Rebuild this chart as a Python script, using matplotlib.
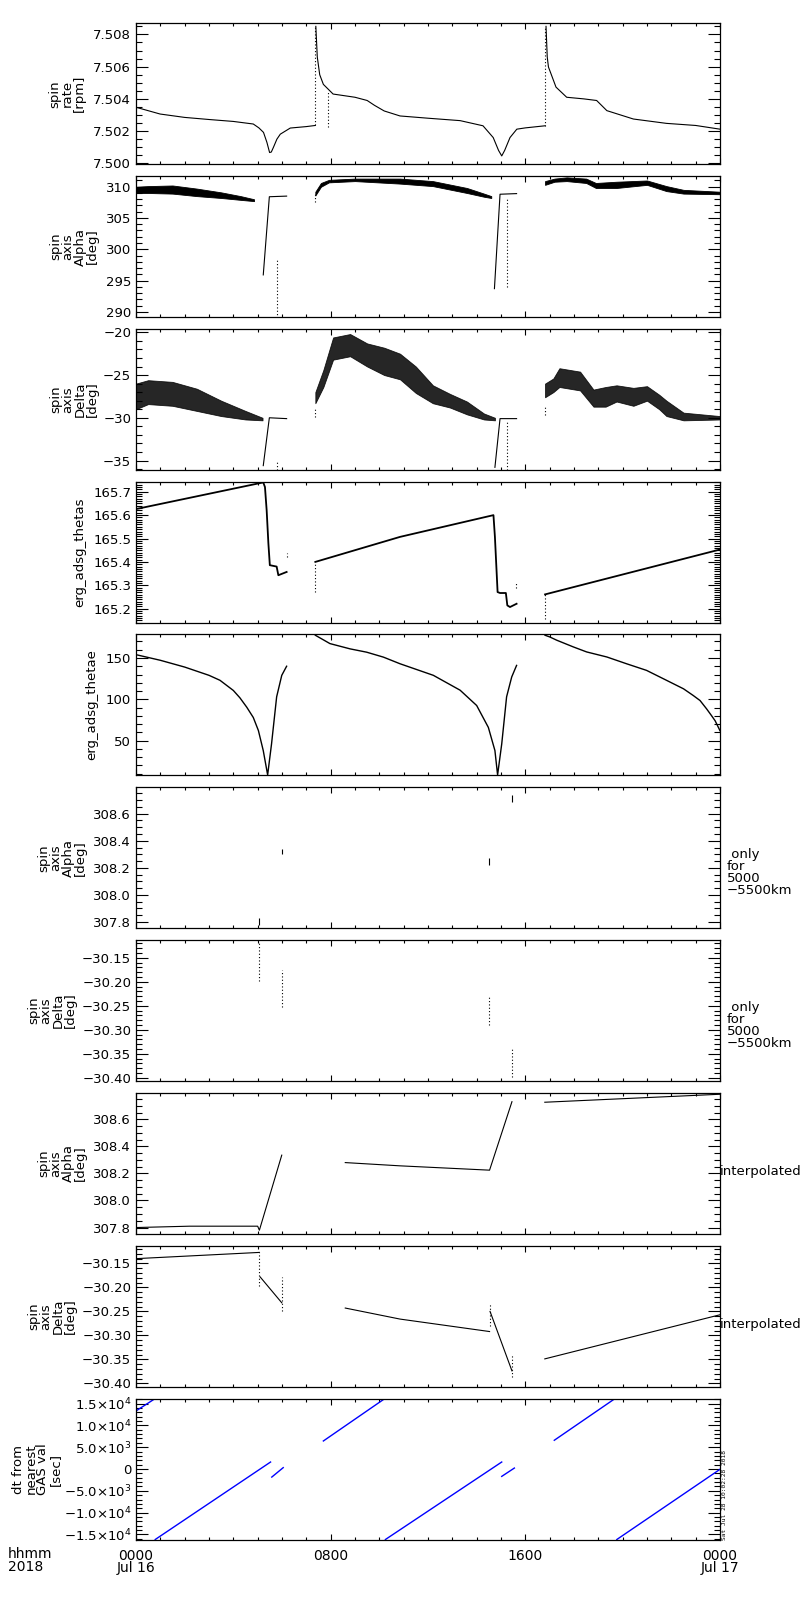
import numpy as np
import matplotlib.pyplot as plt
from matplotlib.ticker import MultipleLocator, FixedLocator, FixedFormatter, FuncFormatter

# time axis: hours since 0000 Jul 16 2018

# spin rate [rpm]
rate_t1 = [0, 0.99, 2.0, 3.0, 4.0, 4.82, 5.05, 5.24, 5.38, 5.49, 5.56, 5.65, 5.79, 5.93, 6.34, 7.0, 7.37]
rate_v1 = [7.50348, 7.50306, 7.50285, 7.50272, 7.5026, 7.50244, 7.5022, 7.50192, 7.5013, 7.50067,
           7.5007, 7.5010, 7.5015, 7.50181, 7.50219, 7.50228, 7.50235]
rate_t2 = [7.39, 7.45, 7.55, 7.7, 7.9, 8.1, 9.0, 9.5, 9.8, 10.2, 10.85, 12.0, 13.32, 14.26, 14.68,
           14.9, 15.03, 15.15, 15.37, 15.65, 16.0, 16.81]
rate_v2 = [7.5085, 7.5066, 7.5055, 7.5049, 7.5046, 7.5043, 7.5041, 7.5039, 7.5036, 7.50325, 7.50294,
           7.5028, 7.50265, 7.50233, 7.5016, 7.5008, 7.50046, 7.5008, 7.5016, 7.50212, 7.5022, 7.50233]
rate_t3 = [16.85, 16.9, 16.95, 17.26, 17.7, 18.4, 18.93, 19.35, 20.44, 21.8, 23.0, 24.0]
rate_v3 = [7.5085, 7.5066, 7.50598, 7.50473, 7.5041, 7.5040, 7.5039, 7.50327, 7.50275, 7.50248,
           7.50235, 7.50212]
rate_spk_t = [7.37, 7.9, 16.81]
rate_spk_lo = [7.50235, 7.50225, 7.50233]
rate_spk_hi = [7.5085, 7.5045, 7.5085]

# spin axis alpha [deg]
alpha_b1_t = [0, 0.5, 1.5, 2.5, 3.5, 4.3, 4.85]
alpha_b1_hi = [310.0, 310.1, 310.2, 309.7, 309.1, 308.5, 308.0]
alpha_b1_lo = [309.0, 309.0, 308.9, 308.5, 308.2, 307.9, 307.7]
alpha_b2_t = [7.37, 7.6, 7.93, 9.0, 10.85, 12.2, 13.6, 14.3, 14.6]
alpha_b2_hi = [309.2, 310.6, 311.1, 311.3, 311.3, 310.9, 309.8, 308.9, 308.5]
alpha_b2_lo = [308.6, 310.0, 310.7, 310.9, 310.5, 310.1, 309.0, 308.4, 308.2]
alpha_b3_t = [16.81, 17.2, 17.7, 18.5, 18.9, 19.75, 21.0, 21.8, 22.5, 24.0]
alpha_b3_hi = [310.9, 311.3, 311.5, 311.3, 310.6, 310.8, 311.0, 310.1, 309.5, 309.2]
alpha_b3_lo = [310.3, 310.8, 310.9, 310.6, 309.8, 309.8, 310.3, 309.3, 308.9, 308.8]
alpha_s1_t = [5.23, 5.48, 6.19]
alpha_s1_v = [295.9, 308.4, 308.5]
alpha_s2_t = [14.73, 14.96, 15.64]
alpha_s2_v = [293.7, 308.8, 308.9]
alpha_dot_t = [5.78, 7.37, 15.26]
alpha_dot_lo = [289.0, 307.5, 294.0]
alpha_dot_hi = [298.5, 308.9, 308.0]

# spin axis delta [deg]
delta_b1_t = [0, 0.5, 1.5, 2.5, 3.5, 4.5, 5.2]
delta_b1_hi = [-26.0, -25.6, -25.8, -26.6, -28.0, -29.2, -30.0]
delta_b1_lo = [-29.0, -28.4, -28.6, -29.2, -29.8, -30.2, -30.3]
delta_b2_t = [7.37, 7.7, 8.1, 8.8, 9.5, 10.2, 10.85, 11.5, 12.2, 12.9, 13.6, 14.3, 14.75]
delta_b2_hi = [-27.0, -24.4, -20.6, -20.2, -21.3, -21.8, -22.5, -24.0, -26.2, -27.2, -28.1, -29.5, -30.0]
delta_b2_lo = [-28.3, -26.4, -23.2, -22.8, -24.0, -25.0, -25.5, -27.1, -28.3, -28.8, -29.6, -30.2, -30.3]
delta_b3_t = [16.81, 17.15, 17.4, 18.25, 18.8, 19.3, 19.75, 20.44, 21.0, 21.5, 21.8, 22.5, 24.0]
delta_b3_hi = [-26.0, -25.4, -24.2, -24.6, -26.7, -26.4, -26.2, -26.5, -26.3, -27.3, -28.0, -29.4, -29.8]
delta_b3_lo = [-27.6, -27.0, -26.4, -26.8, -28.7, -28.7, -28.1, -28.6, -28.0, -29.0, -29.8, -30.3, -30.2]
delta_s1_t = [5.23, 5.48, 6.19]
delta_s1_v = [-35.6, -30.0, -30.1]
delta_s2_t = [14.75, 14.96, 15.64]
delta_s2_v = [-35.8, -30.1, -30.1]
delta_dot_t = [5.78, 7.37, 15.23, 16.81]
delta_dot_lo = [-36.1, -29.9, -36.1, -29.7]
delta_dot_hi = [-35.2, -28.7, -30.3, -28.5]

# erg_adsg_thetas
thetas_t1 = [0, 5.23, 5.3, 5.37, 5.44, 5.5, 5.78, 5.85, 6.19]
thetas_v1 = [165.626, 165.74, 165.72, 165.62, 165.48, 165.386, 165.38, 165.343, 165.357]
thetas_t2 = [7.37, 10.85, 14.69, 14.75, 14.86, 14.96, 15.2, 15.26, 15.37, 15.64]
thetas_v2 = [165.40, 165.507, 165.6, 165.507, 165.271, 165.267, 165.267, 165.214, 165.207, 165.221]
thetas_t3 = [16.81, 24.0]
thetas_v3 = [165.261, 165.453]
thetas_dot_t = [6.19, 7.37, 15.62, 16.81]
thetas_dot_lo = [165.42, 165.27, 165.29, 165.157]
thetas_dot_hi = [165.44, 165.40, 165.31, 165.261]

# erg_adsg_thetae
thetae_t1 = [0, 1.0, 2.0, 3.0, 3.45, 4.0, 4.27, 4.55, 4.82, 5.03, 5.23, 5.41, 5.57, 5.78, 5.99, 6.19]
thetae_v1 = [154, 147.2, 139, 129, 123, 110.7, 101.8, 90.5, 78, 62.2, 37.9, 8.5, 46, 103, 129, 140]
thetae_t2 = [7.37, 7.97, 8.8, 9.48, 10.17, 10.85, 12.22, 13.32, 14.0, 14.48, 14.75, 14.86,
             15.03, 15.23, 15.44, 15.64]
thetae_v2 = [177.5, 167.4, 161, 157, 151, 143, 129, 111, 92.5, 66, 38, 8.5, 46, 103, 127, 141]
thetae_t3 = [16.81, 17.0, 17.29, 17.97, 18.52, 19.35, 20.16, 20.98, 21.8, 22.5, 22.9, 23.18,
             23.45, 23.65, 23.8, 24.0]
thetae_v3 = [177.5, 175.5, 171.5, 163.4, 157.3, 151.2, 143, 135, 123, 112.7, 104.6, 98.5,
             88.4, 80.3, 74, 62]

# only for 5000-5500km
only_t = [5.07, 5.99, 14.52, 15.44]
only_alpha_lo = [307.78, 308.30, 308.22, 308.69]
only_alpha_hi = [307.83, 308.34, 308.27, 308.74]
only_delta_lo = [-30.199, -30.252, -30.29, -30.399]
only_delta_hi = [-30.115, -30.175, -30.23, -30.339]

# interpolated
ialpha_t1 = [0, 2.2, 5.0, 5.07, 5.99]
ialpha_v1 = [307.80, 307.81, 307.81, 307.78, 308.335]
ialpha_t2 = [8.6, 10.85, 14.53, 15.45]
ialpha_v2 = [308.28, 308.256, 308.224, 308.73]
ialpha_t3 = [16.8, 24.0]
ialpha_v3 = [308.726, 308.785]
idelta_t1 = [0, 5.07]
idelta_v1 = [-30.14, -30.127]
idelta_t2 = [5.1, 5.99]
idelta_v2 = [-30.178, -30.232]
idelta_t3 = [8.6, 10.85, 14.53]
idelta_v3 = [-30.243, -30.266, -30.292]
idelta_t4 = [14.55, 15.45]
idelta_v4 = [-30.25, -30.374]
idelta_t5 = [16.8, 24.0]
idelta_v5 = [-30.349, -30.257]
idelta_dot_t = [5.07, 5.99, 14.53, 15.45]
idelta_dot_lo = [-30.198, -30.25, -30.281, -30.387]
idelta_dot_hi = [-30.127, -30.178, -30.233, -30.34]

# dt from nearest GAS val [sec]
dt_seg_t = [[0, 0.79], [0.79, 5.53], [5.58, 6.05], [7.70, 10.23],
            [10.25, 15.03], [15.03, 15.55], [17.19, 19.69], [19.76, 24.0]]
dt_seg_v = [[13300, 16150], [-16150, 1600], [-1850, 310], [6420, 16150],
            [-16150, 1600], [-1690, 220], [6580, 16150], [-16150, -70]]
dt_ticks = [15000, 10000, 5000, 0, -5000, -10000, -15000]
dt_labels = ['1.5\u00d710$^{4}$', '1.0\u00d710$^{4}$', '5.0\u00d710$^{3}$', '0',
             '\u22125.0\u00d710$^{3}$', '\u22121.0\u00d710$^{4}$', '\u22121.5\u00d710$^{4}$']

x_ticks = [0, 8, 16, 24]
x_labels = ['0000\nJul 16', '0800', '1600', '0000\nJul 17']

plt.rcParams['font.family'] = 'DejaVu Sans'
plt.rcParams['font.size'] = 9.5

fig = plt.figure(figsize=(8, 16), dpi=100)
W, H = 800.0, 1600.0
axes = []
for i in range(10):
    top = 23.3 + i * 152.8
    axes.append(fig.add_axes([136 / W, 1 - (top + 141) / H, 584 / W, 141 / H]))


def style(ax, lo, hi, major, minor, fmt=None):
    ax.set_xlim(0, 24)
    ax.set_ylim(lo, hi)
    ax.xaxis.set_major_locator(MultipleLocator(8))
    ax.xaxis.set_minor_locator(MultipleLocator(1))
    ax.yaxis.set_major_locator(MultipleLocator(major))
    ax.yaxis.set_minor_locator(MultipleLocator(minor))
    if fmt:
        ax.yaxis.set_major_formatter(FuncFormatter(lambda v, p: fmt.format(v).replace('-', '\u2212')))
    ax.tick_params(axis='both', which='both', direction='in', top=True, right=True, width=0.8)
    ax.tick_params(axis='y', which='major', length=8.6, pad=3.5, labelsize=9.5)
    ax.tick_params(axis='y', which='minor', length=4.3)
    ax.tick_params(axis='x', which='major', length=4.3)
    ax.tick_params(axis='x', which='minor', length=2.2)
    ax.tick_params(axis='x', labelbottom=False)
    for s in ax.spines.values():
        s.set_linewidth(0.9)


def ylab(i, text, cx):
    cy = 23.3 + i * 152.8 + 70.5
    fig.text(cx / W, 1 - cy / H, text, rotation=90, ha='center', va='center',
             multialignment='center', fontsize=9.5, linespacing=0.9)


k = dict(color='k', lw=0.8)
dots = dict(colors='k', lw=0.8, linestyles=(0, (1, 2)))

ax = axes[0]
for t, v in [(rate_t1, rate_v1), (rate_t2, rate_v2), (rate_t3, rate_v3)]:
    ax.plot(t, v, **k)
ax.vlines(rate_spk_t, rate_spk_lo, rate_spk_hi, **dots)
style(ax, 7.49994, 7.50869, 0.002, 0.0005, '{:.3f}')
ylab(0, 'spin\nrate\n[rpm]', 67)

ax = axes[1]
for t, lo, hi in [(alpha_b1_t, alpha_b1_lo, alpha_b1_hi), (alpha_b2_t, alpha_b2_lo, alpha_b2_hi),
                  (alpha_b3_t, alpha_b3_lo, alpha_b3_hi)]:
    ax.fill_between(t, lo, hi, color='k', lw=0.6)
ax.plot(alpha_s1_t, alpha_s1_v, **k)
ax.plot(alpha_s2_t, alpha_s2_v, **k)
ax.vlines(alpha_dot_t, alpha_dot_lo, alpha_dot_hi, **dots)
style(ax, 289.15, 311.7, 5, 1, '{:.0f}')
ylab(1, 'spin\naxis\nAlpha\n[deg]', 74)

ax = axes[2]
for t, lo, hi in [(delta_b1_t, delta_b1_lo, delta_b1_hi), (delta_b2_t, delta_b2_lo, delta_b2_hi),
                  (delta_b3_t, delta_b3_lo, delta_b3_hi)]:
    ax.fill_between(t, lo, hi, color='k', lw=0.6, alpha=0.85)
ax.plot(delta_s1_t, delta_s1_v, **k)
ax.plot(delta_s2_t, delta_s2_v, **k)
ax.vlines(delta_dot_t, delta_dot_lo, delta_dot_hi, **dots)
style(ax, -36.1, -19.6, 5, 1, '{:.0f}')
ylab(2, 'spin\naxis\nDelta\n[deg]', 74)

ax = axes[3]
for t, v in [(thetas_t1, thetas_v1), (thetas_t2, thetas_v2), (thetas_t3, thetas_v3)]:
    ax.plot(t, v, color='k', lw=1.3)
ax.vlines(thetas_dot_t, thetas_dot_lo, thetas_dot_hi, **dots)
style(ax, 165.14, 165.743, 0.1, 0.01, '{:.1f}')
ylab(3, 'erg_adsg_thetas', 80)

ax = axes[4]
for t, v in [(thetae_t1, thetae_v1), (thetae_t2, thetae_v2), (thetae_t3, thetae_v3)]:
    ax.plot(t, v, color='k', lw=1.0)
style(ax, 7.8, 178.4, 50, 10, '{:.0f}')
ylab(4, 'erg_adsg_thetae', 92)

ax = axes[5]
ax.vlines(only_t, only_alpha_lo, only_alpha_hi, colors='k', lw=0.8)
style(ax, 307.753, 308.795, 0.2, 0.05, '{:.1f}')
ylab(5, 'spin\naxis\nAlpha\n[deg]', 62)

ax = axes[6]
ax.vlines(only_t, only_delta_lo, only_delta_hi, **dots)
style(ax, -30.407, -30.113, 0.05, 0.01, '{:.2f}')
ylab(6, 'spin\naxis\nDelta\n[deg]', 52)

ax = axes[7]
for t, v in [(ialpha_t1, ialpha_v1), (ialpha_t2, ialpha_v2), (ialpha_t3, ialpha_v3)]:
    ax.plot(t, v, **k)
style(ax, 307.753, 308.795, 0.2, 0.05, '{:.1f}')
ylab(7, 'spin\naxis\nAlpha\n[deg]', 62)

ax = axes[8]
for t, v in [(idelta_t1, idelta_v1), (idelta_t2, idelta_v2), (idelta_t3, idelta_v3),
             (idelta_t4, idelta_v4), (idelta_t5, idelta_v5)]:
    ax.plot(t, v, **k)
ax.vlines(idelta_dot_t, idelta_dot_lo, idelta_dot_hi, **dots)
style(ax, -30.407, -30.113, 0.05, 0.01, '{:.2f}')
ylab(8, 'spin\naxis\nDelta\n[deg]', 52)

ax = axes[9]
for t, v in zip(dt_seg_t, dt_seg_v):
    ax.plot(t, v, color='#0000ff', lw=1.0)
style(ax, -16150, 16150, 5000, 1000)
ax.yaxis.set_major_locator(FixedLocator(dt_ticks))
ax.yaxis.set_major_formatter(FixedFormatter(dt_labels))
ax.xaxis.set_major_locator(FixedLocator(x_ticks))
ax.xaxis.set_major_formatter(FixedFormatter(x_labels))
ax.tick_params(axis='x', labelbottom=True, pad=6.5, labelsize=10)
for lab in ax.get_xticklabels():
    lab.set_linespacing(0.9)
ylab(9, 'dt from\nnearest\nGAS val\n[sec]', 37)

# right-hand notes
for i in (5, 6):
    cy = 23.3 + i * 152.8 + 85
    fig.text(727 / W, 1 - cy / H, ' only\nfor\n5000\n\u22125500km', ha='left', va='center',
             fontsize=9.5, linespacing=0.9)
for i in (7, 8):
    cy = 23.3 + i * 152.8 + 79
    fig.text(720 / W, 1 - cy / H, 'interpolated', ha='left', va='center', fontsize=9.5)

fig.text(8 / W, 1 - 1547 / H, 'hhmm\n2018', ha='left', va='top', fontsize=10, linespacing=0.9)
fig.text(724 / W, 1 - 1540 / H, 'Sat Jul 28 10:02:28 2018', rotation=90, ha='center', va='bottom',
         fontsize=4.5, family='DejaVu Sans Mono')

fig.savefig('out.png', dpi=100)
